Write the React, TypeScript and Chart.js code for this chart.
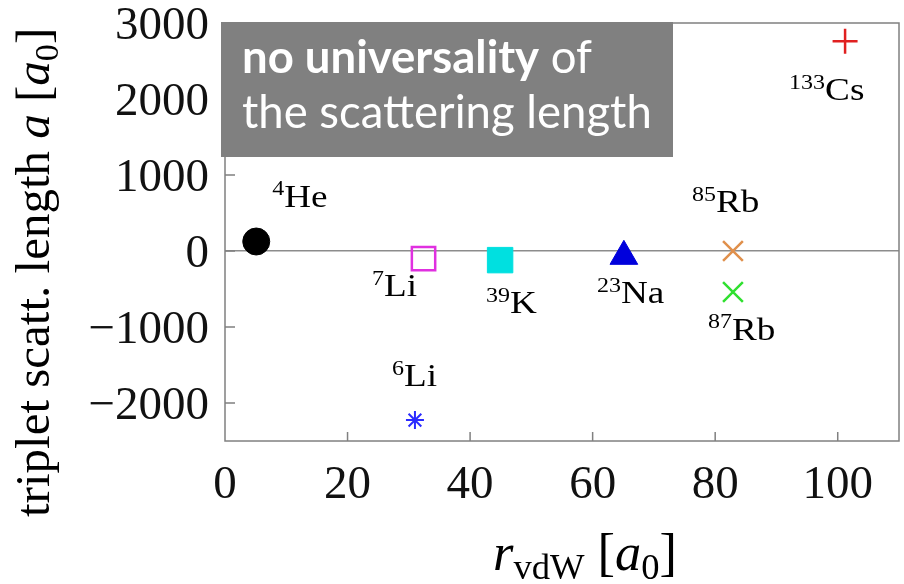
import React, { useEffect, useRef } from 'react';
import { Chart, registerables } from 'chart.js';

Chart.register(...registerables);

// ---------- data ----------
const speciesMass = ['4', '7', '39', '23', '85', '87', '133', '6'];
const speciesElement = ['He', 'Li', 'K', 'Na', 'Rb', 'Rb', 'Cs', 'Li'];
const rvdW = [5.1, 32.4, 44.9, 65.1, 82.9, 82.9, 101.2, 31.0];
const tripletA = [125, -100, -120, -70, 0, -540, 2760, -2225];
const xTickValues = [0, 20, 40, 60, 80, 100];
const yTickValues = [-2000, -1000, 0, 1000, 2000, 3000];

// ---------- styles ----------
const pointStyles = ['circle', 'rect', 'rect', 'triangle', 'crossRot', 'crossRot', 'cross', 'star'];
const pointRadii = [13.5, 16.5, 18, 16, 14, 14, 12.5, 9];
const fillColors = ['#000000', 'rgba(0,0,0,0)', '#00e0e0', '#0000dc', '#e0904c', '#30e030', '#e02020', '#2a2aff'];
const strokeColors = ['#000000', '#e030e0', '#00e0e0', '#0000dc', '#e0904c', '#30e030', '#e02020', '#2a2aff'];
const strokeWidths = [1, 2.5, 1, 1, 2.5, 2.5, 2.5, 2];
const labelDx = [16, -51.5, -14, -27, -41, -25, -56, -23];
const labelDy = [-35, 37.7, 52.8, 46.5, -38.7, 47.5, 59, -34];

const SERIF = '"Liberation Serif"';
const SANS = 'Lato';
const RIGHT_GAP = 5;

type Seg = { t: string; it?: boolean; sub?: boolean; bold?: boolean };

function segFont(s: Seg, size: number, family: string) {
  const sz = Math.round((s.sub ? size * 0.7 : size) * 10) / 10;
  return `${s.it ? 'italic ' : ''}${s.bold ? 'bold ' : ''}${sz}px ${family}`;
}
function measureSegs(ctx: CanvasRenderingContext2D, segs: Seg[], size: number, family: string) {
  let w = 0;
  for (const s of segs) {
    ctx.font = segFont(s, size, family);
    w += ctx.measureText(s.t).width;
  }
  return w;
}
function drawSegs(ctx: CanvasRenderingContext2D, segs: Seg[], x: number, y: number, size: number, family: string) {
  let cx = x;
  for (const s of segs) {
    ctx.font = segFont(s, size, family);
    ctx.fillText(s.t, cx, s.sub ? y + size * 0.18 : y);
    cx += ctx.measureText(s.t).width;
  }
}

const yTitle: Seg[] = [
  { t: 'triplet scatt. length ' },
  { t: 'a', it: true },
  { t: ' [' },
  { t: 'a', it: true },
  { t: '0', sub: true },
  { t: ']' },
];
const xTitle: Seg[] = [
  { t: 'r', it: true },
  { t: 'vdW', sub: true },
  { t: ' [' },
  { t: 'a', it: true },
  { t: '0', sub: true },
  { t: ']' },
];

const overlay = {
  id: 'overlay',
  afterLayout(chart: any) {
    const a = chart.chartArea;
    const xs = chart.scales.x;
    const target = chart.width - RIGHT_GAP;
    if (Math.abs(a.right - target) > 0.5) {
      a.right = target;
      a.width = a.right - a.left;
      xs.right = target;
      xs.width = xs.right - xs.left;
      xs.configure();
    }
  },
  beforeDatasetsDraw(chart: any) {
    const { ctx, chartArea: a, scales } = chart;
    const xs = scales.x;
    const ys = scales.y;
    ctx.save();
    ctx.strokeStyle = '#808080';
    ctx.lineWidth = 1.5;
    ctx.strokeRect(a.left, a.top, a.right - a.left, a.bottom - a.top);
    ctx.beginPath();
    xs.ticks.forEach((t: any) => {
      if (t.value <= xs.min || t.value >= xs.max) return;
      const px = xs.getPixelForValue(t.value);
      ctx.moveTo(px, a.bottom);
      ctx.lineTo(px, a.bottom - 9);
    });
    ys.ticks.forEach((t: any) => {
      if (t.value <= ys.min || t.value >= ys.max) return;
      const py = ys.getPixelForValue(t.value);
      ctx.moveTo(a.left, py);
      ctx.lineTo(a.left + 10, py);
    });
    ctx.stroke();
    ctx.restore();
  },
  afterDraw(chart: any) {
    const { ctx, chartArea: a, scales } = chart;
    const xs = scales.x;
    const ys = scales.y;
    ctx.save();
    ctx.fillStyle = '#000';
    ctx.textBaseline = 'alphabetic';
    ctx.textAlign = 'left';

    // isotope labels
    const big = 31;
    const small = 20;
    const stretch = 1.2;
    for (let i = 0; i < speciesMass.length; i++) {
      const px = xs.getPixelForValue(rvdW[i]) + labelDx[i];
      const py = ys.getPixelForValue(tripletA[i]) + labelDy[i];
      ctx.save();
      ctx.translate(px, py);
      ctx.scale(stretch, 1);
      ctx.font = `${small}px ${SERIF}`;
      ctx.fillText(speciesMass[i], 0, -big * 0.36);
      const w = ctx.measureText(speciesMass[i]).width;
      ctx.font = `${big}px ${SERIF}`;
      ctx.fillText(speciesElement[i], w, 0);
      ctx.restore();
    }

    // axis titles
    ctx.fillStyle = '#000';
    const wy = measureSegs(ctx, yTitle, 48, SERIF);
    const fy = (48 * 489) / wy;
    ctx.save();
    ctx.translate(49, 272.5);
    ctx.rotate(-Math.PI / 2);
    drawSegs(ctx, yTitle, -489 / 2, 0, fy, SERIF);
    ctx.restore();

    const wx = measureSegs(ctx, xTitle, 48, SERIF);
    const fx = (48 * 184) / wx;
    drawSegs(ctx, xTitle, 493, 570, fx, SERIF);

    // gray box
    const bx = a.left - 4;
    const by = a.top - 1;
    ctx.fillStyle = '#808080';
    ctx.fillRect(bx, by, 452, 135);
    ctx.fillStyle = '#ffffff';
    ctx.font = `38px ${SANS}`;
    const w2 = ctx.measureText('the scattering length').width;
    const fs = (38 * 410) / w2;
    const line1: Seg[] = [{ t: 'no universality', bold: true }, { t: ' of' }];
    drawSegs(ctx, line1, bx + 21, by + 51, fs, SANS);
    drawSegs(ctx, [{ t: 'the scattering length' }], bx + 21, by + 106, fs, SANS);
    ctx.restore();
  },
};

function zeroPad(s: any) {
  s.paddingTop = 0;
  s.paddingBottom = 0;
  s.paddingLeft = 0;
  s.paddingRight = 0;
}

export default function App() {
  const ref = useRef<HTMLCanvasElement | null>(null);
  useEffect(() => {
    if (!ref.current) return;
    const datasets = speciesMass.map((m, i) => ({
      label: m + speciesElement[i],
      data: [{ x: rvdW[i], y: tripletA[i] }],
      pointStyle: pointStyles[i] as any,
      pointRadius: pointRadii[i],
      pointHoverRadius: pointRadii[i],
      backgroundColor: fillColors[i],
      borderColor: strokeColors[i],
      borderWidth: strokeWidths[i],
      pointBorderWidth: strokeWidths[i],
      showLine: false,
    }));
    const chart = new Chart(ref.current, {
      type: 'scatter',
      data: { datasets },
      plugins: [overlay],
      options: {
        animation: false,
        responsive: false,
        devicePixelRatio: 1,
        events: [],
        layout: { padding: { left: 0, right: RIGHT_GAP, top: 23, bottom: 0 } },
        plugins: { legend: { display: false }, tooltip: { enabled: false } },
        scales: {
          x: {
            type: 'linear',
            min: 0,
            max: 110,
            afterBuildTicks: (s: any) => {
              s.ticks = xTickValues.map((v) => ({ value: v }));
            },
            afterFit: (s: any) => {
              s.height = 143;
              zeroPad(s);
            },
            grid: { display: false, drawTicks: false },
            border: { display: false },
            ticks: {
              font: { family: SERIF, size: 47 },
              color: '#111',
              padding: 16,
              maxRotation: 0,
              autoSkip: false,
            },
          },
          y: {
            type: 'linear',
            min: -2500,
            max: 3000,
            afterBuildTicks: (s: any) => {
              s.ticks = yTickValues.map((v) => ({ value: v }));
            },
            afterFit: (s: any) => {
              s.width = 225;
              zeroPad(s);
            },
            grid: {
              drawTicks: false,
              lineWidth: 1.5,
              color: (c: any) => (c.tick && c.tick.value === 0 ? '#8c8c8c' : 'rgba(0,0,0,0)'),
            },
            border: { display: false },
            ticks: {
              font: { family: SERIF, size: 47 },
              color: '#111',
              padding: 16,
              labelOffset: 4,
              autoSkip: false,
              callback: (v: any) => (Number(v) < 0 ? '\u2212' + Math.abs(Number(v)) : String(v)),
            },
          },
        },
      },
    });
    return () => chart.destroy();
  }, []);
  return (
    <canvas
      ref={ref}
      width={904}
      height={584}
      style={{ position: 'absolute', left: 0, top: 0, width: 904, height: 584 }}
    />
  );
}
